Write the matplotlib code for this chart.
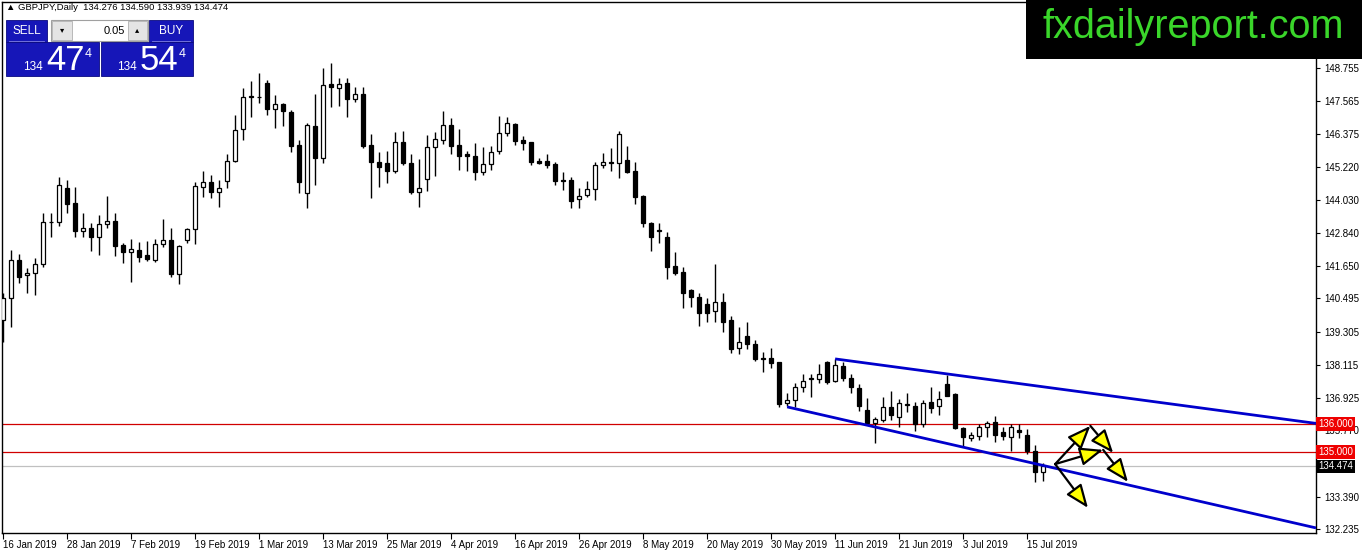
import numpy as np
import pandas as pd
import matplotlib
matplotlib.use("Agg")
import matplotlib.pyplot as plt
from matplotlib.patches import Rectangle
from matplotlib.transforms import blended_transform_factory

plt.rcParams['font.family'] = ['Liberation Sans', 'DejaVu Sans']

# GBPJPY daily candles, 16 Jan 2019 .. 17 Jul 2019
dates = pd.bdate_range('2019-01-16', periods=131)
opens = [139.73, 140.51, 141.88, 141.34, 141.41, 141.73, 143.24, 143.24, 144.46, 143.92,
         142.91, 143.02, 142.70, 143.17, 143.27, 142.41, 142.16, 142.23, 142.05, 141.88,
         142.45, 142.59, 141.37, 142.59, 142.99, 144.49, 144.67, 144.31, 144.71, 145.42,
         146.57, 147.72, 147.72, 148.22, 147.29, 147.47, 147.18, 146.00, 144.28, 146.68,
         145.53, 148.18, 148.04, 148.22, 147.64, 147.82, 146.00, 145.39, 145.35, 145.06,
         146.10, 145.35, 144.31, 144.78, 145.92, 146.18, 146.71, 146.00, 145.67, 145.60,
         145.03, 145.32, 145.78, 146.43, 146.75, 146.18, 146.10, 145.42, 145.42, 145.32,
         144.74, 144.74, 144.06, 144.20, 144.42, 145.28, 145.39, 145.35, 145.46, 145.06,
         144.17, 143.20, 142.95, 142.70, 141.66, 141.45, 140.80, 140.55, 140.30, 140.05,
         140.37, 139.72, 138.72, 139.15, 138.87, 138.36, 138.36, 138.22, 136.75, 136.86,
         137.32, 137.61, 137.61, 138.22, 137.54, 138.08, 137.65, 137.29, 136.50, 136.03,
         136.14, 136.61, 136.25, 136.68, 136.64, 136.00, 136.79, 136.64, 137.43, 137.07,
         135.86, 135.50, 135.57, 135.89, 136.07, 135.71, 135.53, 135.78, 135.60, 135.03,
         134.276]
highs = [140.69, 142.23, 142.09, 141.59, 141.95, 143.56, 143.56, 144.85, 144.74, 144.49,
         143.56, 143.20, 143.49, 144.17, 143.56, 142.48, 142.63, 142.52, 142.56, 142.63,
         143.34, 143.02, 142.41, 143.02, 144.67, 145.06, 144.92, 144.74, 145.67, 147.07,
         148.04, 148.29, 148.58, 148.33, 147.79, 147.50, 147.25, 146.18, 146.78, 147.82,
         148.76, 148.93, 148.40, 148.40, 148.07, 148.07, 146.39, 145.75, 145.78, 146.46,
         146.50, 145.67, 145.49, 146.35, 146.46, 147.21, 146.96, 146.57, 145.78, 146.07,
         145.92, 145.96, 147.03, 147.00, 146.78, 146.32, 146.10, 145.53, 145.67, 145.39,
         145.03, 144.85, 144.46, 144.71, 145.39, 145.71, 145.89, 146.50, 145.96, 145.39,
         144.20, 143.24, 143.20, 142.88, 142.16, 141.62, 140.83, 140.69, 140.51, 141.73,
         140.69, 139.87, 139.47, 139.65, 139.01, 138.58, 138.72, 138.22, 137.11, 137.47,
         137.79, 137.79, 138.15, 138.26, 138.33, 138.22, 137.79, 137.43, 136.93, 136.25,
         136.97, 137.18, 136.89, 137.11, 136.79, 136.86, 137.32, 137.18, 137.75, 137.11,
         135.89, 135.71, 136.00, 136.10, 136.28, 135.89, 136.00, 136.00, 135.82, 135.24,
         134.590]
lows = [138.94, 139.49, 141.05, 140.69, 140.62, 141.62, 142.70, 143.09, 143.56, 142.70,
        142.70, 142.20, 142.05, 143.02, 142.02, 141.77, 141.09, 141.80, 141.84, 141.80,
        142.34, 141.27, 141.02, 142.48, 142.45, 144.13, 144.10, 143.77, 144.45, 145.39,
        146.18, 147.00, 147.50, 147.07, 146.61, 146.68, 145.75, 144.28, 143.74, 144.56,
        145.35, 147.36, 147.39, 147.00, 147.54, 145.89, 144.10, 144.49, 144.63, 144.99,
        145.28, 144.24, 143.77, 144.35, 144.88, 146.03, 145.67, 145.10, 145.06, 144.74,
        144.92, 145.10, 145.67, 146.32, 146.00, 145.82, 145.28, 145.32, 145.17, 144.56,
        144.38, 143.74, 143.74, 144.13, 144.03, 145.17, 145.06, 144.81, 144.99, 143.88,
        143.06, 142.20, 142.48, 141.19, 141.34, 140.15, 140.19, 139.51, 139.65, 139.65,
        139.30, 138.54, 138.51, 138.70, 138.26, 137.86, 138.00, 136.61, 136.64, 136.61,
        137.14, 136.97, 137.47, 137.43, 137.50, 137.54, 137.11, 136.46, 136.00, 135.32,
        136.07, 136.14, 135.89, 136.43, 135.75, 135.89, 136.39, 136.32, 137.00, 135.82,
        135.17, 135.39, 135.43, 135.53, 135.35, 135.43, 135.03, 135.50, 134.92, 133.92,
        133.939]
closes = [140.51, 141.88, 141.27, 141.41, 141.73, 143.24, 143.25, 144.56, 143.88, 142.91,
          143.02, 142.70, 143.17, 143.27, 142.38, 142.16, 142.27, 141.98, 141.91, 142.45,
          142.59, 141.37, 142.38, 142.99, 144.53, 144.67, 144.31, 144.46, 145.42, 146.53,
          147.72, 147.74, 147.73, 147.29, 147.47, 147.21, 145.96, 144.67, 146.71, 145.53,
          148.15, 148.07, 148.18, 147.64, 147.82, 145.96, 145.39, 145.21, 145.06, 146.10,
          145.35, 144.31, 144.45, 145.92, 146.21, 146.71, 145.96, 145.60, 145.60, 145.03,
          145.32, 145.75, 146.43, 146.78, 146.14, 146.07, 145.39, 145.35, 145.28, 144.71,
          144.72, 143.99, 144.17, 144.42, 145.28, 145.39, 145.35, 146.39, 145.03, 144.13,
          143.20, 142.70, 142.93, 141.62, 141.41, 140.69, 140.55, 139.98, 139.98, 140.37,
          139.65, 138.70, 138.94, 138.87, 138.33, 138.34, 138.18, 136.72, 136.86, 137.32,
          137.54, 137.63, 137.79, 137.50, 138.11, 137.65, 137.32, 136.64, 136.03, 136.18,
          136.61, 136.32, 136.75, 136.70, 136.00, 136.75, 136.57, 136.89, 137.00, 135.86,
          135.53, 135.60, 135.89, 136.03, 135.60, 135.57, 135.89, 135.71, 135.03, 134.28,
          134.474]

price_ticks = [148.755, 147.565, 146.375, 145.220, 144.030, 142.840, 141.650, 140.495,
               139.305, 138.115, 136.925, 135.770, 133.390, 132.235]
levels = [136.000, 135.000]
bid = 134.474

# channel lines: (bar, price) anchors
lower_line = [(98, 136.61), (130, 134.51)]
upper_line = [(104, 138.33), (130, 137.33)]

# scenario arrows drawn on the chart: (start, end) in (bar, price)
arrows = [((131.5, 134.56), (135.9, 135.93)),
          ((135.9, 135.93), (138.75, 134.96)),
          ((131.5, 134.56), (137.5, 135.07)),
          ((137.5, 135.07), (140.6, 133.92)),
          ((131.5, 134.56), (135.6, 132.99))]

W, H = 1362, 553
fig = plt.figure(figsize=(W / 100, H / 100), dpi=100)
ax = fig.add_axes([2 / W, 20 / H, (1316 - 2) / W, (H - 20 - 1.5) / H])

x = np.arange(len(opens))
o = np.array(opens); c = np.array(closes)
ax.vlines(x, lows, highs, color='black', lw=1, zorder=2)
bull = c >= o
ax.bar(x[bull], c[bull] - o[bull], bottom=o[bull], width=0.5, color='white',
       edgecolor='black', lw=0.9, zorder=3)
ax.bar(x[~bull], o[~bull] - c[~bull], bottom=c[~bull], width=0.5, color='black',
       edgecolor='black', lw=0.9, zorder=3)

xmin, xmax = -0.125, 164.1
ax.set_xlim(xmin, xmax)
ax.set_ylim(132.09, 151.14)

for lv in levels:
    ax.axhline(lv, color='#d00000', lw=0.9, zorder=1)
ax.axhline(bid, color='#c0c0c0', lw=0.9, zorder=1)

for (x0, y0), (x1, y1) in (lower_line, upper_line):
    k = (y1 - y0) / (x1 - x0)
    ax.plot([x0, xmax], [y0, y0 + k * (xmax - x0)], color='#0000cc', lw=2, zorder=4,
            solid_capstyle='butt')

for (xs, ys), (xe, ye) in arrows:
    ax.annotate('', xy=(xe, ye), xytext=(xs, ys), annotation_clip=False, zorder=5,
                arrowprops=dict(arrowstyle='-|>,head_length=1.5,head_width=0.6',
                                mutation_scale=9.5, fc='#ffff00', ec='black', lw=1.6,
                                shrinkA=0, shrinkB=0))

# axes look
for s in ax.spines.values():
    s.set_color('black'); s.set_linewidth(1)
ax.yaxis.tick_right()
ax.set_yticks(price_ticks)
ax.set_yticklabels([f'{v:.3f}' for v in price_ticks])
ax.tick_params(axis='y', length=3, width=0.8, labelsize=7, pad=3)
tick_idx = list(range(0, len(dates), 8))
ax.set_xticks(tick_idx)
ax.set_xticklabels([f"{dates[i].day} {dates[i].strftime('%b %Y')}" for i in tick_idx])
ax.tick_params(axis='x', length=4, width=0.8, labelsize=7, pad=1)
for lab in ax.get_xticklabels():
    lab.set_ha('left')

tr = blended_transform_factory(ax.transAxes, ax.transData)
for lv in levels:
    ax.text(1.0015, lv, f'{lv:.3f}', transform=tr, fontsize=7, color='white', va='center',
            ha='left', zorder=6, clip_on=False,
            bbox=dict(boxstyle='square,pad=0.2', fc='#ee0000', ec='none'))
ax.text(1.0015, bid, f'{bid:.3f}', transform=tr, fontsize=7, color='white', va='center',
        ha='left', zorder=6, clip_on=False,
        bbox=dict(boxstyle='square,pad=0.2', fc='black', ec='none'))

# overlay in pixel coords: header, trade panel, watermark
ov = fig.add_axes([0, 0, 1, 1], zorder=10)
ov.set_xlim(0, W); ov.set_ylim(H, 0); ov.axis('off'); ov.patch.set_alpha(0)

ov.text(6, 8, '\u25b2 GBPJPY,Daily  134.276 134.590 133.939 134.474', fontsize=6.8,
        va='center', ha='left')

blue = '#1616b8'
for x0, w in ((6, 41), (149, 44)):
    ov.add_patch(Rectangle((x0, 20), w, 22, fc=blue, ec='#0a0a80', lw=0.6))
    ov.plot([x0 + 3, x0 + w - 3], [40.5, 40.5], color='#8080e0', lw=0.6)
ov.text(26.5, 30.5, 'SELL', color='white', fontsize=8.5, ha='center', va='center')
ov.text(171, 30.5, 'BUY', color='white', fontsize=8.5, ha='center', va='center')
ov.add_patch(Rectangle((51, 20), 97, 21, fc='white', ec='#a0a0a0', lw=0.8))
ov.add_patch(Rectangle((52, 21), 20, 19, fc='#e4e4e4', ec='#b0b0b0', lw=0.6))
ov.add_patch(Rectangle((128, 21), 19, 19, fc='#e4e4e4', ec='#b0b0b0', lw=0.6))
ov.text(62, 30.5, '\u25be', fontsize=6, ha='center', va='center')
ov.text(137.5, 30.5, '\u25b4', fontsize=6, ha='center', va='center')
ov.text(125, 30.5, '0.05', fontsize=8, ha='right', va='center')

for x0, w, big, xs in ((6, 93, '47', 23), (101, 92, '54', 117)):
    ov.add_patch(Rectangle((x0, 42), w, 34, fc=blue, ec='#0a0a80', lw=0.6))
    ov.text(xs, 70, '134', color='white', fontsize=8.5, ha='left', va='baseline')
    ov.text(xs + 23, 70, big, color='white', fontsize=25, ha='left', va='baseline')
    ov.text(xs + 62, 57, '4', color='white', fontsize=9, ha='left', va='baseline')

ov.add_patch(Rectangle((1026, 0), W - 1026, 59, fc='black', ec='none'))
ov.text(1193, 27, 'fxdailyreport.com', color='#3ad62a', fontsize=28.5, ha='center',
        va='center')

fig.savefig('out.png', dpi=100)
